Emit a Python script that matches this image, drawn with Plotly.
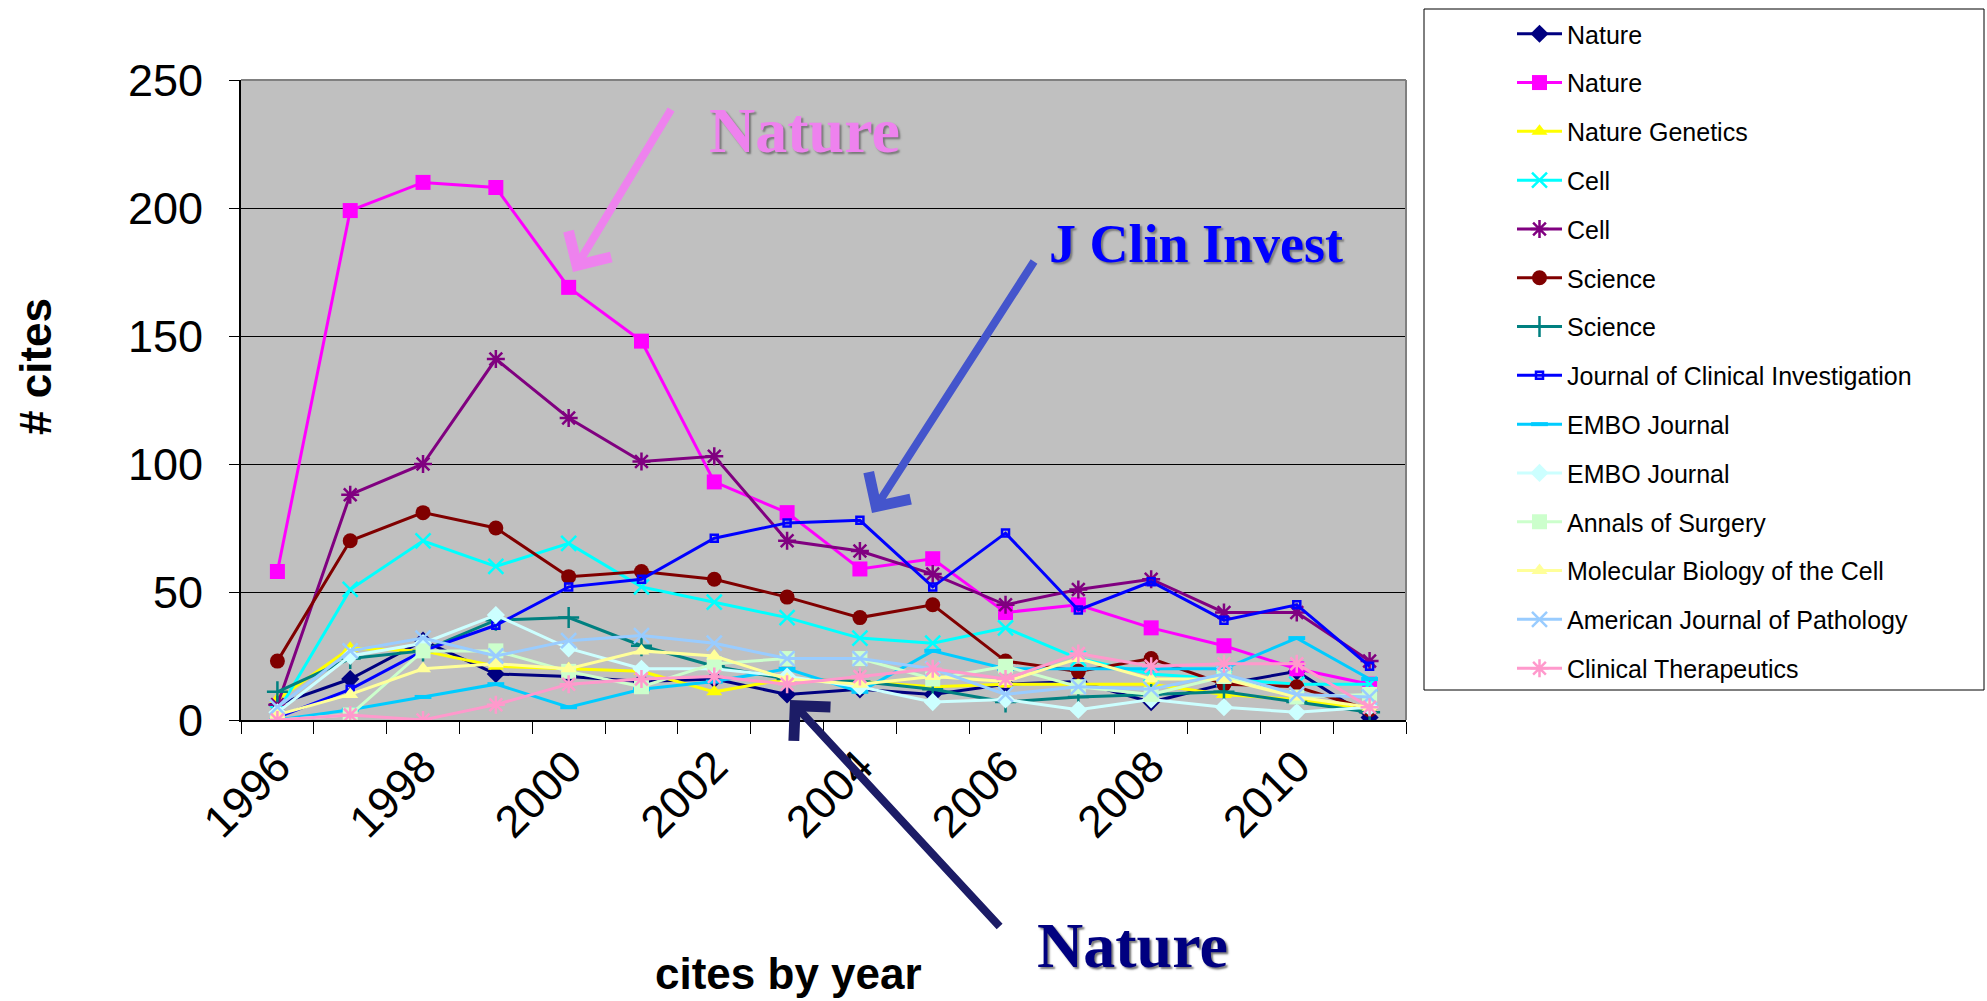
import plotly.graph_objects as go

years = list(range(1996, 2012))

series_names = [
    "Nature", "Nature", "Nature Genetics", "Cell", "Cell", "Science", "Science",
    "Journal of Clinical Investigation", "EMBO Journal", "EMBO Journal",
    "Annals of Surgery", "Molecular Biology of the Cell",
    "American Journal of Pathology", "Clinical Therapeutics",
]

nature_a = [6, 16, 31, 18, 17, 15, 16, 10, 12, 10, 14, 15, 7, 14, 19, 1]
nature_b = [58, 199, 210, 208, 169, 148, 93, 81, 59, 63, 42, 45, 36, 29, 20, 14]
nature_genetics = [8, 28, 27, 21, 20, 19, 11, 16, 15, 13, 14, 14, 14, 10, 8, 4]
cell_a = [3, 51, 70, 60, 69, 52, 46, 40, 32, 30, 36, 24, 18, 16, 14, 14]
cell_b = [6, 88, 100, 141, 118, 101, 103, 70, 66, 57, 45, 51, 55, 42, 42, 23]
science_a = [23, 70, 81, 75, 56, 58, 55, 48, 40, 45, 23, 19, 24, 14, 13, 4]
science_b = [11, 24, 27, 39, 40, 29, 21, 16, 15, 12, 7, 9, 10, 11, 7, 3]
jci = [1, 12, 27, 37, 52, 55, 71, 77, 78, 52, 73, 43, 54, 39, 45, 21]
embo_a = [0, 4, 9, 14, 5, 12, 15, 20, 11, 27, 20, 20, 20, 20, 32, 16]
embo_b = [3, 25, 30, 41, 28, 20, 20, 17, 13, 7, 8, 4, 8, 5, 3, 5]
annals = [0, 2, 27, 27, 19, 13, 22, 24, 24, 16, 21, 13, 10, 17, 9, 10]
mbc = [2, 10, 20, 22, 20, 27, 25, 16, 14, 17, 15, 24, 16, 16, 9, 5]
ajp = [5, 27, 32, 25, 31, 33, 30, 24, 24, 20, 10, 13, 12, 18, 10, 9]
clin_ther = [0, 2, 0, 6, 14, 16, 17, 14, 17, 20, 16, 26, 21, 22, 22, 5]

series_values = [nature_a, nature_b, nature_genetics, cell_a, cell_b, science_a,
                 science_b, jci, embo_a, embo_b, annals, mbc, ajp, clin_ther]

colors = ["#000080", "#FF00FF", "#FFFF00", "#00FFFF", "#800080", "#800000",
          "#008080", "#0000FF", "#00CCFF", "#CCFFFF", "#CCFFCC", "#FFFF99",
          "#99CCFF", "#FF99CC"]
symbols = ["diamond", "square", "triangle-up", "x-thin", "asterisk", "circle",
           "cross-thin", "square-open", "line-ew", "diamond", "square",
           "triangle-up", "x-thin", "asterisk"]
sizes = [14, 15, 14, 15, 15, 15, 15, 7, 12, 14, 15, 14, 15, 15]

tick_labels = [str(y) if y % 2 == 0 else "" for y in years]

W, H = 1987, 1001
L, R, T, B = 241, 1406, 80, 720
pw, ph = R - L, B - T


def px(x):
    return (x - L) / pw


def py(y):
    return (B - y) / ph


fig = go.Figure()
for i, (name, vals) in enumerate(zip(series_names, series_values)):
    sym = symbols[i]
    line_sym = sym in ("x-thin", "asterisk", "cross-thin", "line-ew", "square-open")
    fig.add_trace(go.Scatter(
        x=years, y=vals, name=name, mode="lines+markers",
        legendgroup="g%d" % i,
        line=dict(color=colors[i], width=3),
        marker=dict(symbol=sym, size=sizes[i], color=colors[i],
                    line=dict(color=colors[i], width=(4 if sym == "line-ew" else 2.5) if line_sym else 0)),
    ))

font_sans = "Arial, Liberation Sans, sans-serif"
font_serif = "Times New Roman, Liberation Serif, serif"

fig.update_layout(
    width=W, height=H,
    margin=dict(l=L, r=W - R, t=T, b=H - B, autoexpand=False),
    paper_bgcolor="white",
    plot_bgcolor="#C0C0C0",
    showlegend=True,
    legend=dict(
        x=px(1512), y=py(11), xanchor="left", yanchor="top",
        bgcolor="rgba(0,0,0,0)", borderwidth=0,
        font=dict(family=font_sans, size=25, color="black"),
        traceorder="grouped", tracegroupgap=13.3,
        itemwidth=45, maxheight=1000,
    ),
    font=dict(family=font_sans, color="black"),
)

fig.update_xaxes(
    range=[1995.5, 2011.5],
    tickmode="array", tickvals=years, ticktext=tick_labels,
    tickangle=-45, tickfont=dict(size=45, family=font_sans),
    ticks="", showgrid=False, zeroline=False,
    showline=True, linecolor="black", linewidth=2, mirror=False,
    minor=dict(tickmode="array", tickvals=[y + 0.5 for y in [1995] + years],
               ticks="outside", ticklen=12, tickcolor="black", tickwidth=1),
)
fig.update_yaxes(
    range=[0, 250], dtick=50,
    tickfont=dict(size=45, family=font_sans),
    ticks="outside", ticklen=10, tickcolor="black",
    ticklabelstandoff=17,
    showgrid=True, gridcolor="black", gridwidth=1,
    zeroline=False, showline=True, linecolor="black", linewidth=2,
)

shapes = [
    dict(type="line", xref="paper", yref="paper", x0=0, x1=1, y0=1, y1=1,
         line=dict(color="#808080", width=2)),
    dict(type="line", xref="paper", yref="paper", x0=1, x1=1, y0=0, y1=1,
         line=dict(color="#808080", width=2)),
    dict(type="rect", xref="paper", yref="paper",
         x0=px(1424), x1=px(1984), y0=py(690), y1=py(9),
         line=dict(color="black", width=1), fillcolor="rgba(0,0,0,0)", layer="below"),
]
fig.update_layout(shapes=shapes)


def label(text, x, y, size, family, color="black", angle=0, shadow=None):
    f = dict(size=size, family=family, color=color)
    if shadow:
        f["shadow"] = shadow
    return dict(text=text, xref="paper", yref="paper", x=px(x), y=py(y),
                xanchor="center", yanchor="middle", textangle=angle,
                showarrow=False, font=f)


def arrow(head, tail, color):
    return dict(text="", xref="paper", yref="paper", x=px(head[0]), y=py(head[1]),
                ax=tail[0] - head[0], ay=tail[1] - head[1], axref="pixel", ayref="pixel",
                showarrow=True, arrowhead=4, arrowsize=1.2, arrowwidth=8, arrowcolor=color)


shadow = "2px 2px 2px #777777"
annotations = [
    label("<b># cites</b>", 35, 367, 44, font_sans, angle=-90),
    label("<b>cites by year</b>", 788, 973, 44, font_sans),
    arrow((573, 272), (672, 108), "#EE82EE"),
    arrow((872, 513), (1035, 260), "#4455CC"),
    arrow((790, 700), (1001, 928), "#1C1C66"),
    label("<b>Nature</b>", 804, 130, 64, font_serif, "#EE82EE", shadow=shadow),
    label("<b>J Clin Invest</b>", 1196, 244, 54, font_serif, "#0000FF", shadow=shadow),
    label("<b>Nature</b>", 1132, 945, 64, font_serif, "#000080", shadow=shadow),
]
fig.update_layout(annotations=annotations)

fig.write_html(
    "out.html",
    config={"displayModeBar": False},
    post_script="document.body.style.margin='0px';document.body.style.overflow='hidden';",
)
